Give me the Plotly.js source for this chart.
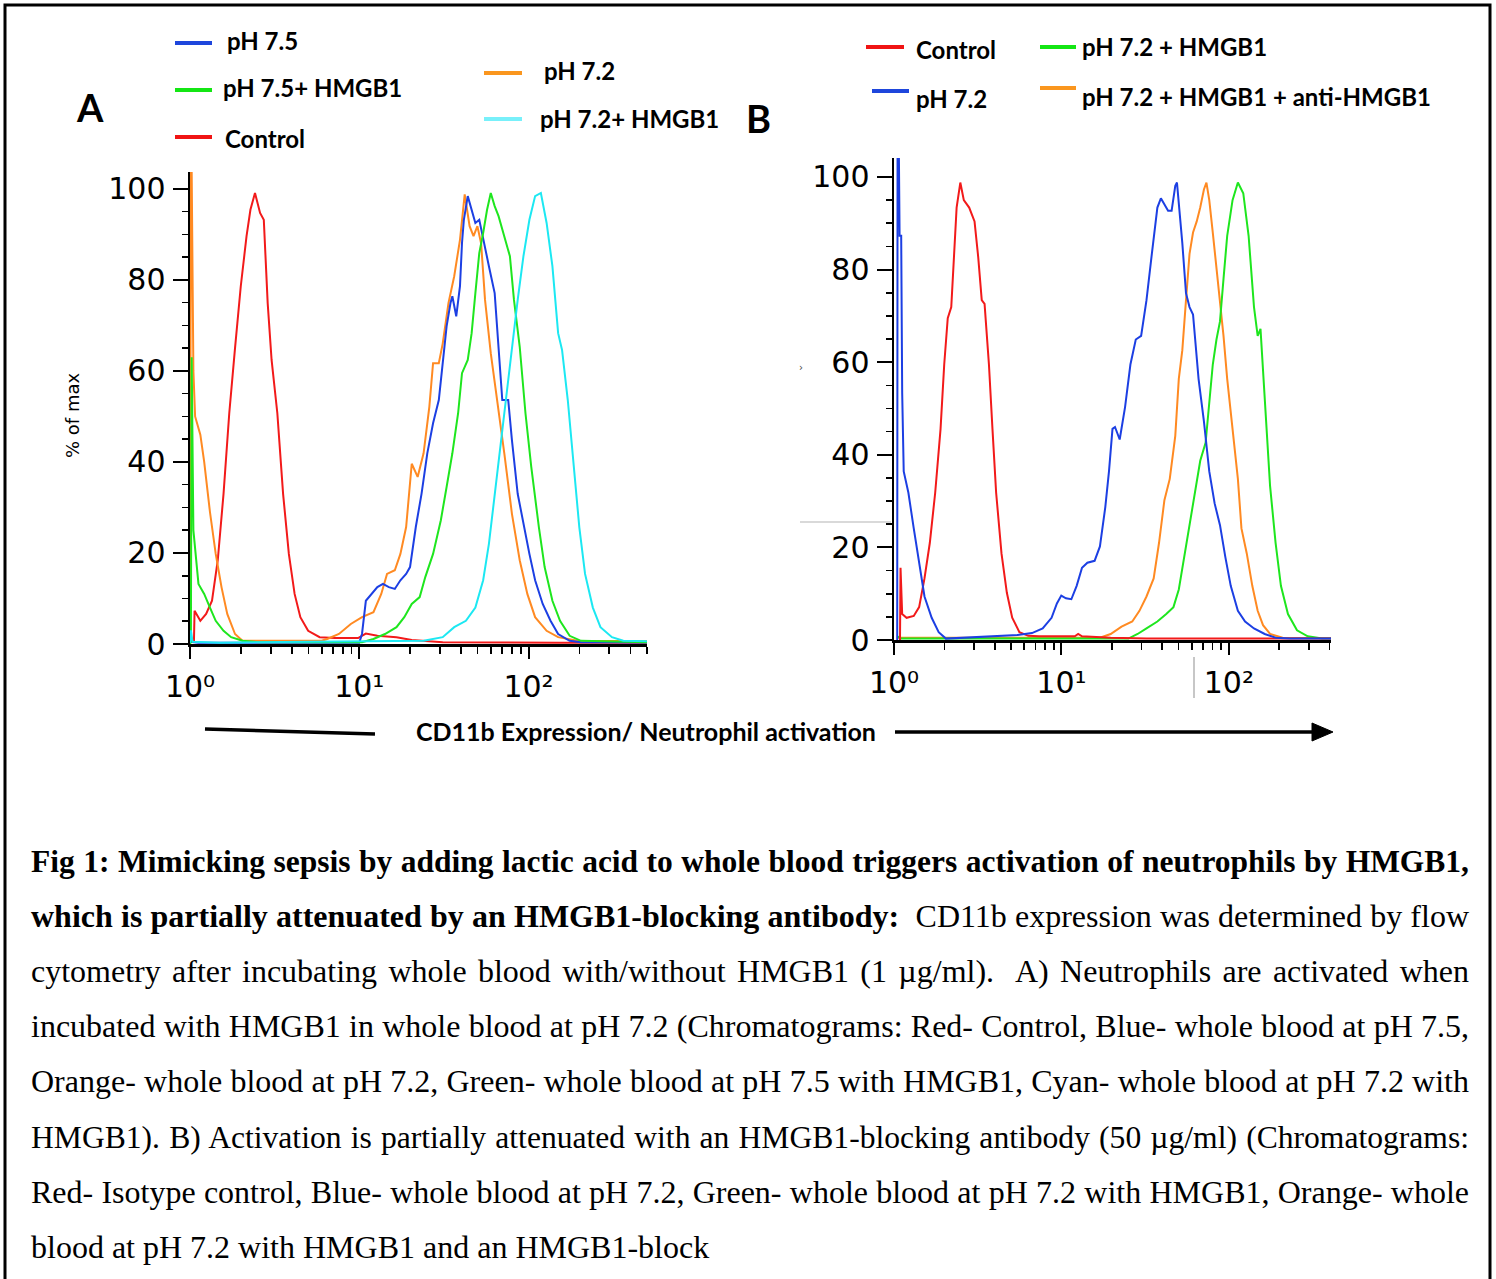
<!DOCTYPE html>
<html>
<head>
<meta charset="utf-8">
<script src="https://cdn.plot.ly/plotly-3.0.1.min.js"></script>
<style>
  html, body { margin: 0; padding: 0; background: #fff; }
  #wrap { position: relative; width: 1496px; height: 1279px; overflow: hidden; }
  #chart { position: absolute; left: 0; top: 0; width: 1496px; height: 1279px; }
  .cap { position: absolute; left: 31px; width: 1438px; height: 55px; line-height: 55px;
         font-family: "Liberation Serif", "Times New Roman", serif; font-size: 32px; color: #000;
         white-space: nowrap; text-align: justify; text-align-last: justify; }
  .cap.first { font-size: 31.5px; }
  .cap.tight { font-size: 31.6px; }
  .cap.last { text-align: left; text-align-last: left; }
  .cap b { font-weight: bold; }
</style>
</head>
<body>
<div id="wrap">
  <div id="chart"></div>
  <div class="cap first" style="top:834px"><b>Fig 1: Mimicking sepsis by adding lactic acid to whole blood triggers activation of neutrophils by HMGB1,</b></div>
  <div class="cap" style="top:889px"><b>which is partially attenuated by an HMGB1-blocking antibody:</b>&nbsp; CD11b expression was determined by flow</div>
  <div class="cap" style="top:944px">cytometry after incubating whole blood with/without HMGB1 (1 µg/ml).&nbsp; A) Neutrophils are activated when</div>
  <div class="cap" style="top:999px">incubated with HMGB1 in whole blood at pH 7.2 (Chromatograms: Red- Control, Blue- whole blood at pH 7.5,</div>
  <div class="cap" style="top:1054px">Orange- whole blood at pH 7.2, Green- whole blood at pH 7.5 with HMGB1, Cyan- whole blood at pH 7.2 with</div>
  <div class="cap tight" style="top:1110px">HMGB1). B) Activation is partially attenuated with an HMGB1-blocking antibody (50 µg/ml) (Chromatograms:</div>
  <div class="cap" style="top:1165px">Red- Isotype control, Blue- whole blood at pH 7.2, Green- whole blood at pH 7.2 with HMGB1, Orange- whole</div>
  <div class="cap last" style="top:1220px">blood at pH 7.2 with HMGB1 and an HMGB1-block</div>
</div>
<script>
// ---------------- DATA ----------------
// Panel A: CD11b fluorescence (x, log scale) vs % of max (y)
const aControlX = [1.055, 1.064, 1.151, 1.245, 1.349, 1.459, 1.578, 1.706, 1.845, 1.995, 2.158, 2.275, 2.421, 2.594, 2.729, 2.877, 3.034, 3.281, 3.548, 3.837, 4.150, 4.487, 4.989, 5.834, 7.194, 9.840, 10.94, 12.79, 16.60, 20.42, 31.12, 60, 150, 512.9];
const aControlY = [0.5, 7.3, 5.1, 6.6, 9.5, 18.4, 33, 50.7, 65, 78.6, 89.6, 95.4, 99.1, 94.7, 93.2, 74.9, 62.4, 50.7, 33, 19.8, 11, 5.9, 2.9, 1.5, 1.3, 1.3, 2.3, 1.8, 1.5, 0.9, 0.4, 0.3, 0.3, 0.3];

const aPh72X = [1.0, 1.012, 1.023, 1.03, 1.047, 1.072, 1.151, 1.213, 1.312, 1.419, 1.535, 1.660, 1.845, 2.042, 2.512, 6.0, 6.457, 7.586, 8.913, 10.38, 12.13, 13.49, 14.59, 16.22, 17.50, 18.92, 20.42, 22.13, 23.99, 25.94, 27.29, 29.51, 31.12, 33.65, 36.39, 39.36, 41.98, 44.87, 47.32, 49.89, 52.48, 55.34, 59.84, 64.71, 71.94, 79.80, 88.72, 98.40, 109.4, 127.9, 149.6, 195.0, 331.1, 512.9];
const aPh72Y = [0, 104, 104, 86, 60, 50, 46, 40, 29, 19.8, 12.5, 6.6, 2.2, 0.7, 0.7, 0.7, 1.1, 2.2, 4.4, 5.9, 7, 11, 15.4, 16.2, 19.8, 25.7, 39.6, 36.7, 41.9, 52.1, 61.7, 61.7, 66, 74.9, 80.8, 88.8, 98.8, 91.8, 89.6, 91.8, 88, 75.6, 63.9, 55, 41.9, 28.6, 18.4, 11, 5.9, 2.9, 1.5, 0.7, 0.6, 0.6];

const aPh75X = [1.0, 1.12, 10.0, 10.38, 10.94, 11.83, 12.79, 13.80, 14.96, 16.22, 17.50, 18.92, 19.95, 21.58, 23.33, 25.23, 27.29, 29.51, 31.12, 32.81, 34.59, 35.48, 37.41, 39.36, 40.46, 41.50, 43.75, 46.13, 48.53, 51.17, 53.95, 58.34, 63.10, 66.53, 69.98, 75.86, 79.80, 86.30, 93.33, 101.2, 109.4, 121.3, 134.9, 149.6, 175.0, 204.2, 512.9];
const aPh75Y = [0.5, 0.3, 0.3, 2.2, 9.5, 11, 12.5, 13.2, 12.5, 12.1, 14, 15.4, 16.9, 25.7, 33, 41.9, 48.5, 53.6, 61, 69.8, 74.9, 76.4, 72, 78.6, 88.1, 93.2, 98.4, 95.4, 92.5, 93.2, 88.8, 83, 77.1, 65.3, 53.6, 53.6, 44.8, 33, 26.4, 19.8, 14, 8.8, 5.1, 2.2, 0.7, 0.4, 0.3];

const aPh75HmgbX = [1.0, 1.012, 1.023, 1.035, 1.047, 1.122, 1.213, 1.312, 1.419, 1.578, 1.750, 2.042, 2.512, 10.38, 12.13, 14.19, 16.60, 18.45, 20.42, 22.75, 24.55, 27.29, 30.34, 32.81, 35.48, 38.37, 40.46, 43.75, 46.13, 48.53, 51.17, 53.95, 56.89, 59.84, 63.10, 66.53, 71.94, 77.62, 82.04, 88.72, 95.94, 103.8, 115.1, 124.5, 138.4, 153.5, 175.0, 204.2, 512.9];
const aPh75HmgbY = [0, 0.5, 63, 40, 25, 13.2, 11, 8, 5.1, 2.9, 1.5, 0.7, 0.4, 0.4, 1.1, 2.2, 3.7, 5.9, 8.8, 10.3, 14.7, 19.8, 27.2, 34.5, 41.9, 50.7, 59.5, 62.4, 68.3, 77.1, 85.9, 90.3, 95.4, 99.1, 96.2, 94, 89.6, 85.2, 75.6, 65.3, 50.7, 38.9, 25.7, 16.9, 9.5, 5.1, 1.8, 0.7, 0.4];

const aPh72HmgbX = [1.0, 1.012, 1.035, 1.5, 23.99, 31.12, 36.39, 42.66, 48.53, 53.95, 58.34, 63.10, 68.23, 73.79, 79.80, 86.30, 93.33, 101.2, 109.4, 118.3, 127.9, 138.4, 149.6, 157.8, 170.6, 184.5, 199.5, 215.8, 239.9, 266.1, 311.2, 363.1, 512.9];
const aPh72HmgbY = [0.3, 3, 0.5, 0.3, 0.7, 1.5, 3.7, 5.1, 8, 14, 22, 33, 43.3, 53.6, 65.3, 75.6, 85.2, 93.2, 98.4, 99.1, 92.5, 83, 68.3, 64.6, 53.6, 38.9, 25.7, 15.4, 8, 3.7, 1.5, 0.7, 0.6];

// Panel B
const bControlX = [1.086, 1.094, 1.119, 1.189, 1.312, 1.413, 1.521, 1.637, 1.762, 1.897, 1.995, 2.094, 2.198, 2.275, 2.366, 2.489, 2.612, 2.812, 3.027, 3.184, 3.342, 3.475, 3.690, 3.873, 4.074, 4.385, 4.721, 5.082, 5.610, 6.339, 7.345, 12.02, 12.59, 13.27, 19.68, 32.21, 407.4];
const bControlY = [0, 15.6, 5.6, 4.8, 5.2, 7.1, 13.3, 21, 31.8, 45.6, 59.5, 69.5, 71.9, 82.7, 93.4, 98.8, 95, 93.4, 90.4, 82.7, 73.4, 72.6, 59.5, 45.6, 31.8, 18.7, 10.2, 4.8, 1.7, 0.9, 0.8, 0.8, 1.3, 0.8, 0.5, 0.3, 0.3];

const bPh72X = [1.045, 1.05, 1.07, 1.08, 1.104, 1.119, 1.143, 1.219, 1.312, 1.413, 1.521, 1.679, 1.849, 2.042, 3.690, 5.470, 6.668, 7.727, 8.730, 9.397, 9.977, 10.64, 11.46, 12.33, 13.27, 14.29, 15.78, 16.98, 18.28, 19.23, 20.18, 20.89, 22.28, 23.99, 25.82, 27.80, 29.92, 32.21, 34.67, 37.41, 39.26, 41.21, 43.35, 45.50, 47.86, 48.98, 50.93, 52.72, 55.46, 58.21, 61.09, 65.92, 70.96, 76.38, 82.22, 88.51, 95.28, 102.6, 113.2, 125.0, 141.3, 163.7, 190.1, 231.2, 407.4];
const bPh72Y = [0, 104, 104, 87.3, 87.3, 53.4, 36.4, 31.8, 24.1, 16.3, 9.4, 4.8, 1.7, 0.3, 0.8, 1.1, 1.5, 2.5, 4.8, 7.9, 9.6, 9, 8.8, 11.7, 15.6, 16.7, 17.1, 20.2, 28.7, 36.4, 45.6, 46, 43.3, 50.3, 59.5, 64.9, 65.7, 73.4, 83.4, 93.4, 95.4, 94.2, 92.7, 92.7, 98.1, 98.8, 91.9, 85.7, 74.9, 71.9, 70.3, 56.4, 47.2, 36.4, 29.5, 24.8, 17.9, 11.7, 6.3, 4, 2.5, 1.3, 0.5, 0.3, 0.3];

const bPh72HmgbX = [1.047, 1.1, 25.12, 28.51, 32.21, 37.41, 42.27, 46.67, 50.23, 54.08, 58.21, 62.66, 67.45, 72.61, 76.38, 80.17, 84.33, 88.51, 92.90, 97.72, 105.2, 113.2, 121.9, 131.2, 141.3, 148.6, 154.5, 163.7, 176.2, 190.1, 204.6, 225.4, 255.3, 295.8, 360.6, 407.4];
const bPh72HmgbY = [0.8, 0.3, 0.3, 1.3, 2.5, 4, 5.6, 7.1, 10.9, 17.9, 24.1, 31.8, 38.7, 42.6, 51.8, 59.5, 64.9, 68.8, 78, 87.3, 95, 98.8, 96.5, 87.3, 71.9, 65.7, 67.2, 51.8, 33.3, 21, 11.7, 5.6, 2.1, 0.8, 0.3, 0.3];

const bAntiX = [1.047, 16.98, 19.68, 22.86, 26.49, 29.24, 32.21, 35.56, 38.28, 41.21, 44.36, 47.86, 50.23, 52.72, 55.46, 58.21, 61.09, 64.27, 67.45, 70.96, 73.45, 76.38, 80.17, 84.33, 88.51, 92.90, 97.72, 105.2, 113.2, 118.9, 127.9, 138.0, 148.6, 160.0, 176.2, 209.4, 407.4];
const bAntiY = [0.5, 0.5, 1.3, 2.9, 4, 6.3, 9.4, 13.3, 21, 30.2, 34.8, 44.1, 56.4, 62.6, 73.4, 83.4, 88, 90.4, 93.4, 97.3, 98.8, 95, 88, 80.3, 73.4, 65.7, 56.4, 45.6, 34.8, 24.1, 18.7, 11.7, 6.3, 3.2, 1.3, 0.5, 0.4];

// Tick values / labels
const yTickVals = [0, 20, 40, 60, 80, 100];
const xTickVals = [1, 10, 100];
const xTickText = ['10⁰', '10¹', '10²'];
const xMinorVals = [2, 3, 4, 5, 6, 7, 8, 9, 20, 30, 40, 50, 60, 70, 80, 90, 200, 300, 400, 500];

const legendA = [
  {name: 'pH 7.5', color: '#1e46dc'},
  {name: 'pH 7.5+ HMGB1', color: '#14e614'},
  {name: 'Control', color: '#f01414'},
  {name: 'pH 7.2', color: '#fa961e'},
  {name: 'pH 7.2+ HMGB1', color: '#78f0fa'}
];
const legendB = [
  {name: 'Control', color: '#f01414'},
  {name: 'pH 7.2 + HMGB1', color: '#14e614'},
  {name: 'pH 7.2', color: '#1e46dc'},
  {name: 'pH 7.2 + HMGB1 + anti-HMGB1', color: '#fa961e'}
];

// ---------------- COLOURS ----------------
const RED = '#f21a1a', BLUE = '#1c3fe3', GREEN = '#1ee61e', ORANGE = '#ff8a22', CYAN = '#1ce8f2';

// ---------------- LAYOUT HELPERS ----------------
const W = 1496, H = 1279;
const PX = v => v / W;
const PY = v => 1 - v / H;

function tr(x, y, color, xa, ya) {
  return {x: x, y: y, type: 'scatter', mode: 'lines', line: {color: color, width: 2, shape: 'linear'},
          xaxis: xa, yaxis: ya, hoverinfo: 'skip', showlegend: false};
}

const traces = [
  tr(aControlX, aControlY, RED, 'x', 'y'),
  tr(aPh72X, aPh72Y, ORANGE, 'x', 'y'),
  tr(aPh75X, aPh75Y, BLUE, 'x', 'y'),
  tr(aPh75HmgbX, aPh75HmgbY, GREEN, 'x', 'y'),
  tr(aPh72HmgbX, aPh72HmgbY, CYAN, 'x', 'y'),
  tr(bAntiX, bAntiY, ORANGE, 'x2', 'y2'),
  tr(bPh72HmgbX, bPh72HmgbY, GREEN, 'x2', 'y2'),
  tr(bControlX, bControlY, RED, 'x2', 'y2'),
  tr(bPh72X, bPh72Y, BLUE, 'x2', 'y2')
];

const tickFont = {family: 'DejaVu Sans', size: 30, color: '#000'};
function xAxis(domain, rng, anchor) {
  return {type: 'log', domain: domain, range: rng, anchor: anchor,
    showline: true, linecolor: '#000', linewidth: 2.5, showgrid: false, zeroline: false,
    ticks: 'outside', ticklen: 12, tickwidth: 2, tickcolor: '#000',
    tickmode: 'array', tickvals: xTickVals, ticktext: xTickText, tickfont: tickFont, ticklabelstandoff: 2,
    minor: {tickmode: 'array', tickvals: xMinorVals, ticks: 'outside', ticklen: 7, tickwidth: 1.6, tickcolor: '#000', showgrid: false},
    fixedrange: true};
}
function yAxis(domain, rng, anchor) {
  return {domain: domain, range: rng, anchor: anchor,
    showline: true, linecolor: '#000', linewidth: 2.5, showgrid: false, zeroline: false,
    ticks: 'outside', ticklen: 15, tickwidth: 2, tickcolor: '#000',
    tickmode: 'array', tickvals: yTickVals, tickfont: tickFont, ticklabelstandoff: 1,
    minor: {tickmode: 'linear', tick0: 0, dtick: 5, ticks: 'outside', ticklen: 6, tickwidth: 1.6, tickcolor: '#000', showgrid: false},
    fixedrange: true};
}

const annotations = [];
const shapes = [];
const legFont = {family: 'Lato', size: 24, color: '#000', weight: 'bold'};

function legItem(item, lx0, lx1, ly, tx, ty) {
  shapes.push({type: 'line', xref: 'paper', yref: 'paper', x0: PX(lx0), x1: PX(lx1), y0: PY(ly), y1: PY(ly),
               line: {color: item.color, width: 4}});
  annotations.push({xref: 'paper', yref: 'paper', x: PX(tx), y: PY(ty), xanchor: 'left', yanchor: 'middle',
                    text: item.name, showarrow: false, font: legFont});
}
// Legend A
legItem(legendA[0], 175, 212, 43, 225, 41);
legItem(legendA[1], 175, 212, 90, 221, 88);
legItem(legendA[2], 175, 212, 137, 223, 139);
legItem(legendA[3], 484, 522, 73, 542, 70);
legItem(legendA[4], 484, 522, 119, 538, 118);
// Legend B
legItem(legendB[0], 866, 904, 47, 914, 49);
legItem(legendB[1], 1040, 1076, 47, 1080, 47);
legItem(legendB[2], 872, 909, 91, 914, 98);
legItem(legendB[3], 1040, 1076, 88, 1080, 96);

// Panel letters
annotations.push({xref: 'paper', yref: 'paper', x: PX(90), y: PY(107), xanchor: 'center', yanchor: 'middle',
  text: 'A', showarrow: false, font: {family: 'Lato', size: 38, color: '#000', weight: 'bold'}});
annotations.push({xref: 'paper', yref: 'paper', x: PX(758), y: PY(118), xanchor: 'center', yanchor: 'middle',
  text: 'B', showarrow: false, font: {family: 'Lato', size: 38, color: '#000', weight: 'bold'}});
// y title
annotations.push({xref: 'paper', yref: 'paper', x: PX(72), y: PY(416), xanchor: 'center', yanchor: 'middle',
  text: '% of max', textangle: -90, showarrow: false, font: {family: 'DejaVu Sans', size: 18, color: '#000'}});
// x title
annotations.push({xref: 'paper', yref: 'paper', x: PX(646), y: PY(731), xanchor: 'center', yanchor: 'middle',
  text: 'CD11b Expression/ Neutrophil activation', showarrow: false,
  font: {family: 'Lato', size: 25, color: '#000', weight: 'bold'}});
// small stray mark
annotations.push({xref: 'paper', yref: 'paper', x: PX(801), y: PY(368), xanchor: 'center', yanchor: 'middle',
  text: '›', showarrow: false, font: {family: 'DejaVu Sans', size: 10, color: '#444'}});

// Arrow lines
shapes.push({type: 'line', xref: 'paper', yref: 'paper', x0: PX(205), y0: PY(729), x1: PX(375), y1: PY(734),
             line: {color: '#000', width: 3.5}});
shapes.push({type: 'line', xref: 'paper', yref: 'paper', x0: PX(895), y0: PY(732), x1: PX(1316), y1: PY(732),
             line: {color: '#000', width: 3.5}});
shapes.push({type: 'path', xref: 'paper', yref: 'paper',
             path: 'M ' + PX(1312) + ' ' + PY(723) + ' L ' + PX(1333) + ' ' + PY(732) + ' L ' + PX(1312) + ' ' + PY(741) + ' Z',
             fillcolor: '#000', line: {color: '#000', width: 1}});
// Gray artefact lines in panel B
shapes.push({type: 'line', xref: 'paper', yref: 'paper', x0: PX(800), y0: PY(522), x1: PX(891), y1: PY(522),
             line: {color: '#b4b4b4', width: 1.2}});
shapes.push({type: 'line', xref: 'paper', yref: 'paper', x0: PX(1194), y0: PY(657), x1: PX(1194), y1: PY(698),
             line: {color: '#b4b4b4', width: 1.5}});
// Frame
shapes.push({type: 'rect', xref: 'paper', yref: 'paper', x0: PX(5), y0: PY(1290), x1: PX(1490), y1: PY(5),
             line: {color: '#000', width: 3}, fillcolor: 'rgba(0,0,0,0)'});

const layout = {
  width: W, height: H,
  margin: {l: 0, r: 0, t: 0, b: 0, pad: 0},
  paper_bgcolor: '#fff', plot_bgcolor: 'rgba(0,0,0,0)',
  font: {family: 'DejaVu Sans', color: '#000'},
  showlegend: false,
  xaxis: xAxis([190 / W, 647 / W], [0, 2.70], 'y'),
  yaxis: yAxis([(H - 644) / H, (H - 172) / H], [0, 103.7], 'x'),
  xaxis2: xAxis([894 / W, 1331 / W], [0, 2.61], 'y2'),
  yaxis2: yAxis([(H - 640) / H, (H - 158) / H], [0, 104.1], 'x2'),
  annotations: annotations,
  shapes: shapes
};

Plotly.newPlot('chart', traces, layout, {displayModeBar: false, staticPlot: true});
</script>
</body>
</html>
